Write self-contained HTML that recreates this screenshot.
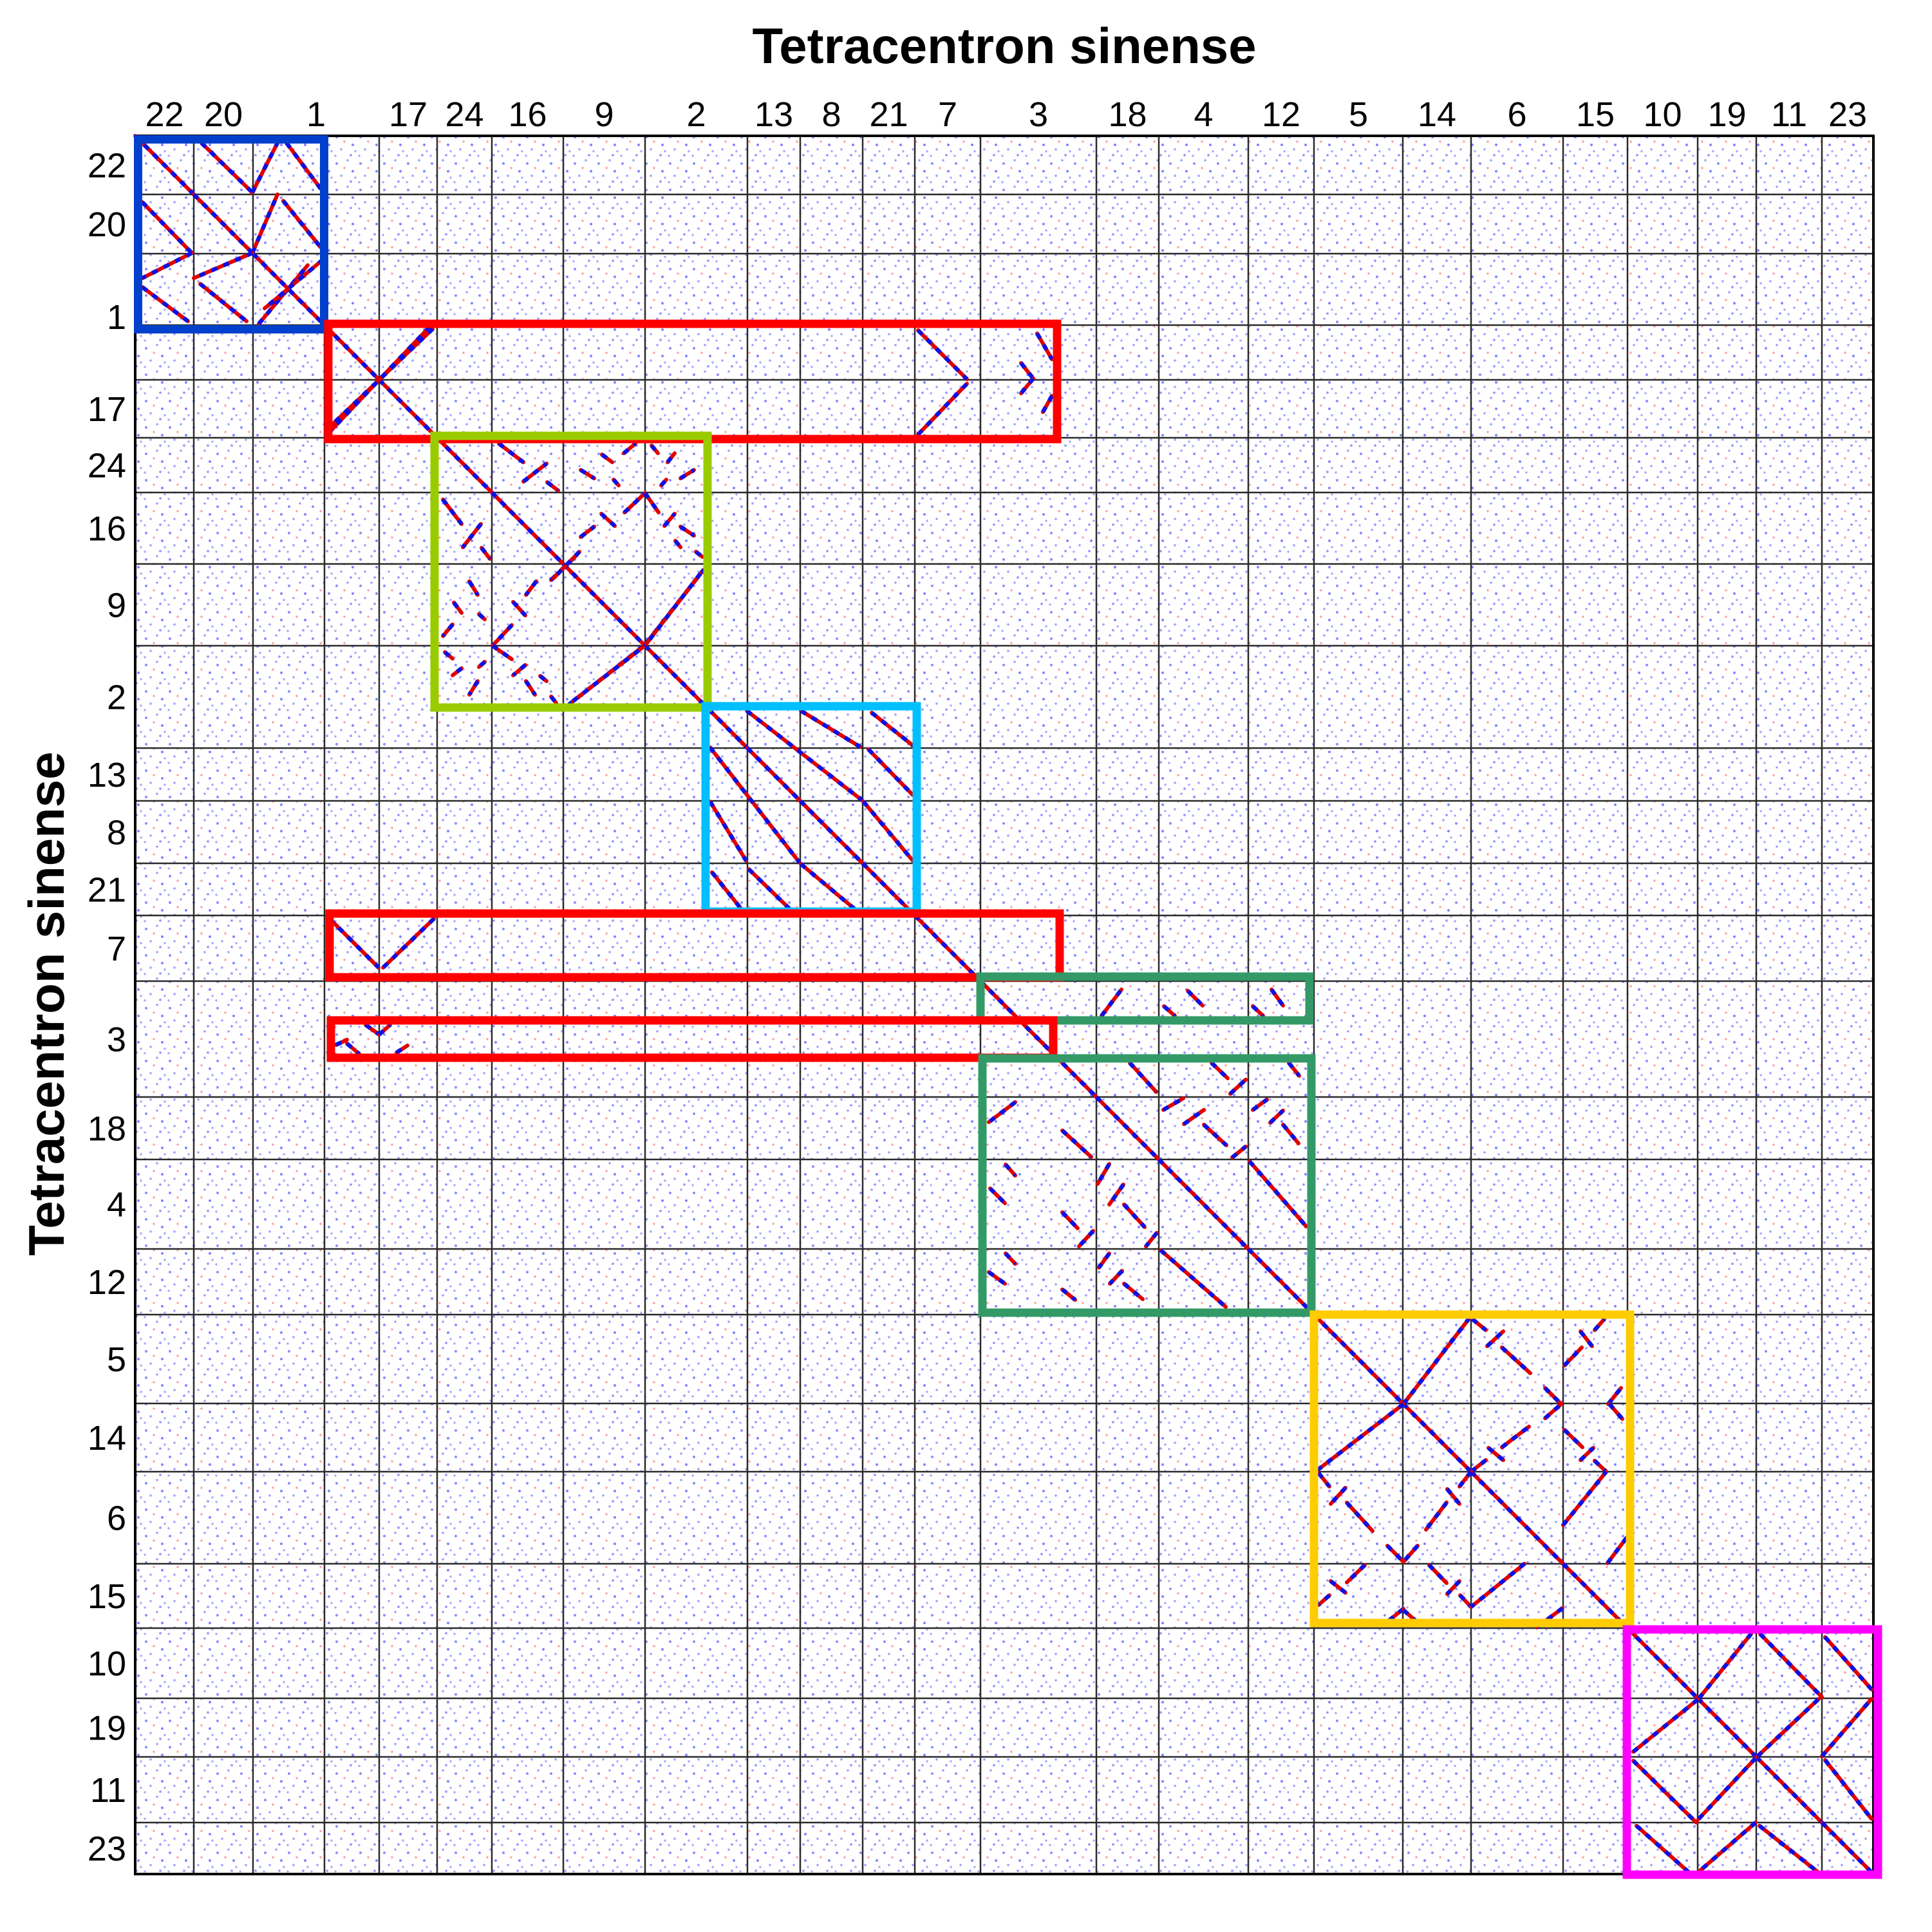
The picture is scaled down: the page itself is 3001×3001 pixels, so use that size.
<!DOCTYPE html>
<html><head><meta charset="utf-8"><style>
html,body{margin:0;padding:0;background:#fff;}
svg{display:block;}
text{font-family:"Liberation Sans",Arial,sans-serif;fill:#000;}
</style></head><body>
<svg id="chart" width="3001" height="3001" viewBox="0 0 3001 3001" xmlns="http://www.w3.org/2000/svg">
<defs>
<pattern id="noise" width="37" height="41" patternUnits="userSpaceOnUse">
<circle cx="5" cy="8" r="2" fill="#4040ff" opacity="0.6"/>
<circle cx="22" cy="3" r="1.8" fill="#5050ff" opacity="0.55"/>
<circle cx="30" cy="20" r="2" fill="#3030ff" opacity="0.6"/>
<circle cx="12" cy="27" r="1.8" fill="#5050ff" opacity="0.55"/>
<circle cx="27" cy="36" r="1.9" fill="#4040ff" opacity="0.55"/>
<circle cx="17" cy="15" r="1.7" fill="#ff5050" opacity="0.55"/>
<circle cx="34" cy="30" r="1.7" fill="#5050ff" opacity="0.5"/>
<circle cx="3" cy="37" r="1.7" fill="#5050ff" opacity="0.5"/>
</pattern>
</defs>
<rect x="0" y="0" width="3001" height="3001" fill="#fff"/>
<text x="1560" y="98" font-size="78" font-weight="bold" text-anchor="middle">Tetracentron sinense</text>
<text transform="translate(99,1559) rotate(-90)" font-size="78" font-weight="bold" text-anchor="middle">Tetracentron sinense</text>
<rect x="210" y="211" width="2700" height="2700" fill="url(#noise)"/>
<g id="grid"></g>
<g id="marks"></g>
<g id="boxes"></g>
<g id="labels"></g>
</svg>
<script>
// chromosome order and lengths (arbitrary genome units)
const chromNames = ["22","20","1","17","24","16","9","2","13","8","21","7","3","18","4","12","5","14","6","15","10","19","11","23"];
const chromLengths = [91,92,196,90,85,111,127,159,82,97,81,102,180,97,139,102,138,106,143,100,109,91,102,80];
const scaffoldBreaks = [294];
// syntenic segments [x0,y0,x1,y1] in genome units (mirrored across diagonal)
const segments = [
[103,11,182,88],[182,88,221,11],[235,11,288,82],[182,182,221,91],[230,101,288,173],[192,292,268,201],
[300,462,458,296],[1216,302,1292,378],[1216,464,1292,385],
[565,478,603,507],[603,537,639,509],[640,538,657,551],[692,519,713,532],[725,495,741,507],[743,534,751,543],[759,493,777,478],[802,481,812,493],[827,507,838,493],[817,543,825,534],[847,532,868,519],[760,585,792,555],[792,555,813,585],[724,587,745,606],[692,623,713,607],[822,606,838,587],[847,607,868,621],[839,629,847,639],[871,646,881,654],[646,690,687,650],[793,789,883,674],[680,878,793,791],
[950,893,1129,1032],[1034,893,1126,949],[1139,953,1208,1024],[1144,896,1208,947],[1131,1034,1208,1126],
[1501,1367,1532,1326],[1635,1328,1658,1351],[1598,1352,1615,1367],[1765,1326,1783,1351],[1736,1352,1752,1367],[1545,1440,1586,1485],[1672,1440,1697,1464],[1701,1488,1725,1466],[1792,1440,1808,1460],[1597,1513,1628,1495],[1629,1535,1660,1513],[1660,1536,1695,1568],[1704,1587,1725,1570],[1736,1513,1758,1497],[1763,1533,1783,1514],[1783,1536,1807,1565],[1731,1593,1819,1694],
[1970,1970,2072,1837],[2077,1838,2098,1855],[2100,1880,2125,1857],[2123,1882,2167,1922],[2190,1945,2215,1970],[2267,1855,2282,1838],[2245,1857,2263,1880],[2220,1910,2247,1882],[2288,1970,2308,1945],[2075,2075,2098,2057],[2102,2038,2125,2057],[2123,2037,2165,2005],[2190,1992,2215,1970],[2220,2010,2248,2037],[2245,2057,2265,2038],[2267,2058,2285,2075],[2290,1970,2310,1993],[2218,2158,2285,2075],[2287,2217,2317,2177],
[2429,2427,2510,2327],[2524,2327,2620,2425],[2625,2332,2697,2413],[2520,2517,2615,2428],[2620,2517,2697,2428],[2625,2523,2697,2614]
];
// segments drawn only once (not mirrored)
const singleSegments = [
[1401,307,1424,347],[1376,353,1395,377],[1395,377,1376,400],[1424,404,1410,429],
[358,1381,379,1396],[379,1396,396,1381],[312,1412,329,1404],[329,1410,348,1426],[406,1424,423,1413]
];
// highlighted syntenic regions [x0,y0,x1,y1] in genome units
const boxRegions = [
[4.5,5.5,293.5,300.5],[300,292,1432,471],[465,466,889,888],[886,886,1214,1205],
[302,1208,1436,1307],[1313,1306,1824,1374],[304,1374,1426,1432],[1316,1433,1827,1828],
[1831,1831,2322,2310],[2317,2320,2707,2701]
];
const boxColors = ["#0040cc","#ff0000","#99cc00","#00bfff","#ff0000","#339966","#ff0000","#339966","#ffcc00","#ff00ff"];

const NS = "http://www.w3.org/2000/svg";
const X0 = 210, Y0 = 211, SIZE = 2700;
const total = chromLengths.reduce((a,b)=>a+b,0);
function sx(u){ return X0 + u / total * SIZE; }
function sy(u){ return Y0 + u / total * SIZE; }
function mk(tag, attrs, parent){ const e = document.createElementNS(NS, tag); for (const k in attrs) e.setAttribute(k, attrs[k]); parent.appendChild(e); return e; }

const starts = []; let acc = 0;
chromLengths.forEach(l => { starts.push(acc); acc += l; });

// grid
const grid = document.getElementById('grid');
const bounds = starts.concat([total], scaffoldBreaks);
bounds.forEach((b, i) => {
  const v = mk('line', {x1: sx(b), y1: Y0, x2: sx(b), y2: Y0 + SIZE, stroke: '#2a2a2a', 'stroke-width': 2.5}, grid);
  
  
  const h = mk('line', {x1: X0, y1: sy(b), x2: X0 + SIZE, y2: sy(b), stroke: '#2a2a2a', 'stroke-width': 2.5}, grid);
  
  
});
const frame = mk('rect', {x: X0, y: Y0, width: SIZE, height: SIZE, fill: 'none', stroke: '#000', 'stroke-width': 4}, grid);



// marks
const marks = document.getElementById('marks');
function drawSeg(a, b, c, d, name) {
  const r = mk('line', {x1: sx(a), y1: sy(b), x2: sx(c), y2: sy(d), stroke: '#e00000', 'stroke-width': 6, 'stroke-linecap': 'round'}, marks);
  
  
  const bl = mk('line', {x1: sx(a), y1: sy(b), x2: sx(c), y2: sy(d), stroke: '#1010e0', 'stroke-width': 6.5, 'stroke-dasharray': '9 11'}, marks);
  
  
}
chromLengths.forEach((l, i) => {
  drawSeg(starts[i], starts[i], starts[i] + l, starts[i] + l, 'diagonal-' + chromNames[i]);
});
segments.forEach((s) => {
  drawSeg(s[0], s[1], s[2], s[3], 'synteny-segment');
  drawSeg(s[1], s[0], s[3], s[2], 'synteny-segment-mirror');
});
singleSegments.forEach((s) => {
  drawSeg(s[0], s[1], s[2], s[3], 'synteny-segment');
});

// boxes
const boxes = document.getElementById('boxes');
boxRegions.forEach((b, i) => {
  const r = mk('rect', {x: sx(b[0]), y: sy(b[1]), width: sx(b[2]) - sx(b[0]), height: sy(b[3]) - sy(b[1]), fill: 'none', stroke: boxColors[i], 'stroke-width': 13}, boxes);
  
  
});

// labels
const labels = document.getElementById('labels');
chromNames.forEach((n, i) => {
  const c = starts[i] + chromLengths[i] / 2;
  const t = mk('text', {x: sx(c), y: 196, 'font-size': 54, 'text-anchor': 'middle'}, labels);
  t.textContent = n;
  
  
  const t2 = mk('text', {x: 196, y: sy(c) + 19, 'font-size': 54, 'text-anchor': 'end'}, labels);
  t2.textContent = n;
  
  
});
</script>
</body></html>
